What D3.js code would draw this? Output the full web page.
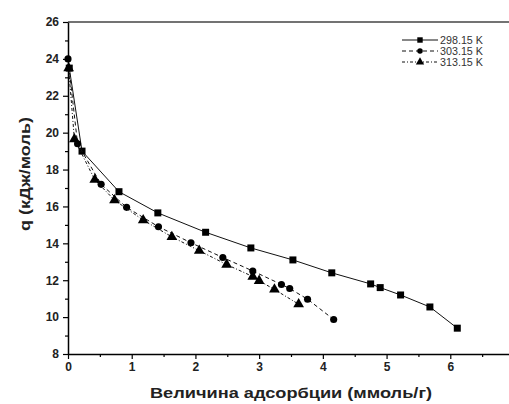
<!DOCTYPE html>
<html>
<head>
<meta charset="utf-8">
<script src="https://cdn.jsdelivr.net/npm/d3@7"></script>
<style>
	body { margin: 0; background: #fff; }
	svg { display: block; font-family: 'Liberation Sans', Arial, sans-serif; }
	.tick text { font-weight: bold; font-size: 12px; fill: #222; }
</style>
</head>
<body>
<div id="chart"></div>
<script>
// DATA
const seriesNames = ['298.15 K', '303.15 K', '313.15 K'];

const x298 = [0.02, 0.22, 0.80, 1.41, 2.16, 2.87, 3.53, 4.14, 4.75, 4.90, 5.22, 5.68, 6.11];
const q298 = [23.5, 19.0, 16.8, 15.65, 14.6, 13.75, 13.1, 12.4, 11.8, 11.6, 11.2, 10.55, 9.4];

const x303 = [0.0, 0.15, 0.52, 0.92, 1.42, 1.93, 2.43, 2.90, 3.35, 3.48, 3.76, 4.17];
const q303 = [24.0, 19.4, 17.2, 15.95, 14.9, 14.03, 13.23, 12.5, 11.77, 11.55, 10.97, 9.87];

const x313 = [0.01, 0.10, 0.42, 0.73, 1.18, 1.63, 2.06, 2.49, 2.90, 3.00, 3.24, 3.62];
const q313 = [23.5, 19.65, 17.45, 16.34, 15.26, 14.35, 13.6, 12.85, 12.2, 11.97, 11.5, 10.7];

const xTicks = [0, 1, 2, 3, 4, 5, 6];
const yTicks = [8, 10, 12, 14, 16, 18, 20, 22, 24, 26];

const xLabel = 'Величина адсорбции (ммоль/г)';
const yLabel = 'q (кДж/моль)';

// THE GOOD STUFF
const width = 509, height = 404;
const margin = { top: 22, right: -5, bottom: 50, left: 68 };
const dashes = ['none', '4,3', '3,2,1,2'];
const symbols = [d3.symbolSquare, d3.symbolCircle, d3.symbolTriangle];
const symbolSizes = [49, 40, 50];

let svg, xScale, yScale;

// FUNCTIONS
const setupAxes = () => {
	xScale = d3.scaleLinear()
		.domain([0, 7])
		.range([margin.left, width - margin.right]);
	yScale = d3.scaleLinear()
		.domain([8, 26])
		.range([height - margin.bottom, margin.top]);

	// top frame line
	svg.append('line')
		.attr('x1', margin.left).attr('x2', width)
		.attr('y1', margin.top).attr('y2', margin.top)
		.attr('stroke', '#444').attr('stroke-width', 1.5);

	// x minor + major
	svg.append('g')
		.attr('transform', `translate(0,${height - margin.bottom})`)
		.call(d3.axisBottom(xScale).tickValues(d3.range(0.5, 7, 1)).tickSize(3).tickSizeOuter(0).tickFormat(''))
		.call(g => g.select('.domain').remove());
	svg.append('g')
		.attr('transform', `translate(0,${height - margin.bottom})`)
		.call(d3.axisBottom(xScale).tickValues(xTicks).tickSize(5).tickSizeOuter(0).tickPadding(3)
			.tickFormat(d3.format('d')))
		.call(g => g.select('.domain').attr('stroke-width', 1.5));

	// y minor + major
	svg.append('g')
		.attr('transform', `translate(${margin.left},0)`)
		.call(d3.axisLeft(yScale).tickValues(d3.range(9, 26, 2)).tickSize(3).tickSizeOuter(0).tickFormat(''))
		.call(g => g.select('.domain').remove());
	svg.append('g')
		.attr('transform', `translate(${margin.left},0)`)
		.call(d3.axisLeft(yScale).tickValues(yTicks).tickSize(5).tickSizeOuter(0).tickPadding(4)
			.tickFormat(d3.format('d')))
		.call(g => g.select('.domain').attr('stroke-width', 1.5));

	svg.selectAll('.tick line').attr('stroke-width', 1.2);

	// axis titles
	svg.append('text')
		.attr('x', 291).attr('y', 398)
		.attr('text-anchor', 'middle')
		.attr('font-weight', 'bold').attr('font-size', 15)
		.attr('textLength', 282).attr('lengthAdjust', 'spacingAndGlyphs')
		.attr('fill', '#222')
		.text(xLabel);
	svg.append('text')
		.attr('transform', 'translate(30,174) rotate(-90)')
		.attr('text-anchor', 'middle')
		.attr('font-weight', 'bold').attr('font-size', 14)
		.attr('textLength', 114).attr('lengthAdjust', 'spacingAndGlyphs')
		.attr('fill', '#222')
		.text(yLabel);
};

const drawData = (xs, qs, i) => {
	const data = xs.map((x, j) => ({ x, q: qs[j] }));
	const line = d3.line().x(d => xScale(d.x)).y(d => yScale(d.q));

	svg.append('path')
		.datum(data)
		.attr('fill', 'none')
		.attr('stroke', '#111')
		.attr('stroke-width', 1)
		.attr('stroke-dasharray', dashes[i])
		.attr('d', line);

	svg.append('g')
		.selectAll('path')
		.data(data)
		.join('path')
		.attr('transform', d => `translate(${xScale(d.x)},${yScale(d.q)})`)
		.attr('d', d3.symbol().type(symbols[i]).size(symbolSizes[i]))
		.attr('fill', '#000');
};

const drawLegend = () => {
	const lg = svg.append('g').attr('transform', 'translate(402,40)');
	seriesNames.forEach((name, i) => {
		const row = lg.append('g').attr('transform', `translate(0,${i * 11})`);
		row.append('line')
			.attr('x1', 0).attr('x2', 36)
			.attr('stroke', '#111').attr('stroke-width', 1)
			.attr('stroke-dasharray', dashes[i]);
		row.append('path')
			.attr('transform', 'translate(18,0)')
			.attr('d', d3.symbol().type(symbols[i]).size(symbolSizes[i] * 0.6))
			.attr('fill', '#000');
		row.append('text')
			.attr('x', 38).attr('y', 4)
			.attr('font-size', 10.5)
			.attr('textLength', 43).attr('lengthAdjust', 'spacingAndGlyphs')
			.attr('fill', '#333')
			.text(name);
	});
};

const init = () => {
	svg = d3.select('#chart')
		.append('svg')
		.attr('width', width)
		.attr('height', height)
		.attr('viewBox', [0, 0, width, height]);

	setupAxes();
	drawData(x298, q298, 0);
	drawData(x303, q303, 1);
	drawData(x313, q313, 2);
	drawLegend();
};

init();
</script>
</body>
</html>
